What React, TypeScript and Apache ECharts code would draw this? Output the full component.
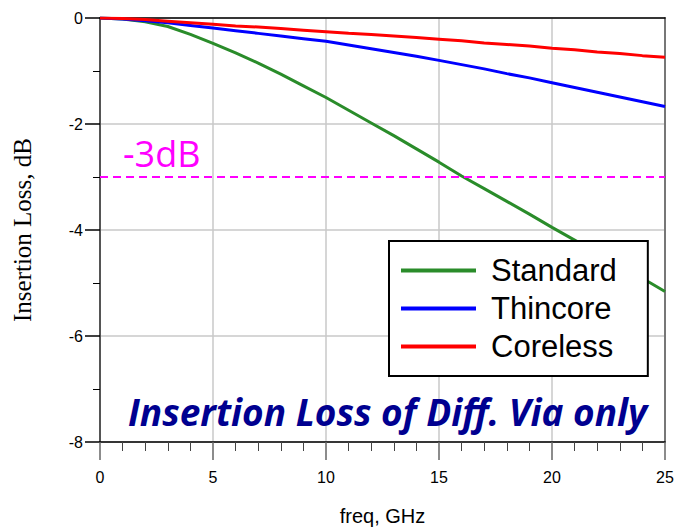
import React, { useEffect, useRef } from "react";
import * as echarts from "echarts";

const freqGHz = [0,1,2,3,4,5,6,7,8,9,10,11,12,13,14,15,16,17,18,19,20,21,22,23,24,25];
const standard = [0,-0.02,-0.07,-0.16,-0.31,-0.48,-0.66,-0.85,-1.06,-1.28,-1.50,-1.74,-1.98,-2.22,-2.47,-2.72,-2.98,-3.22,-3.46,-3.70,-3.95,-4.19,-4.43,-4.67,-4.91,-5.16];
const thincore = [0,-0.02,-0.05,-0.09,-0.14,-0.19,-0.24,-0.29,-0.34,-0.39,-0.44,-0.51,-0.58,-0.65,-0.72,-0.80,-0.88,-0.96,-1.05,-1.13,-1.22,-1.31,-1.40,-1.49,-1.58,-1.67];
const coreless = [0,-0.01,-0.03,-0.06,-0.09,-0.12,-0.15,-0.17,-0.20,-0.23,-0.26,-0.29,-0.31,-0.34,-0.37,-0.40,-0.43,-0.47,-0.50,-0.53,-0.57,-0.60,-0.64,-0.67,-0.71,-0.74];
const seriesNames = ["Standard", "Thincore", "Coreless"];
const seriesColors = ["#2a8c2a", "#0000ff", "#ff0000"];
const thresholdDb = -3;
const thresholdLabel = "-3dB";
const titleText = "Insertion Loss of Diff. Via only";

export default function App() {
  const ref = useRef<HTMLDivElement>(null);
  useEffect(() => {
    if (!ref.current) return;
    const chart = echarts.init(ref.current, undefined, { renderer: "svg" });
    const all = [standard, thincore, coreless];
    const series: any[] = all.map((vals, i) => ({
      name: seriesNames[i],
      type: "line",
      data: freqGHz.map((f, j) => [f, vals[j]]),
      showSymbol: false,
      symbol: "none",
      lineStyle: { color: seriesColors[i], width: 3 },
      itemStyle: { color: seriesColors[i] },
      z: 3,
    }));
    series[0].markLine = {
      silent: true,
      symbol: "none",
      data: [{ yAxis: thresholdDb }],
      lineStyle: { color: "#ff00ff", width: 2, type: [8, 5] },
      label: {
        show: true,
        formatter: thresholdLabel,
        position: "insideStartTop",
        color: "#ff00ff",
        fontFamily: "Open Sans",
        fontSize: 36,
        distance: [23, 6],
      },
    };
    chart.setOption({
      animation: false,
      backgroundColor: "#ffffff",
      grid: { left: 100, top: 18, right: 17, bottom: 88, containLabel: false, outerBoundsMode: "none" },
      legend: {
        orient: "vertical",
        left: 389,
        top: 241,
        data: seriesNames,
        icon: "rect",
        itemWidth: 75,
        itemHeight: 4,
        itemGap: 7,
        backgroundColor: "#ffffff",
        borderColor: "#000000",
        borderWidth: 2,
        borderRadius: 0,
        padding: [14, 31, 14, 12],
        textStyle: { fontFamily: "Liberation Sans, Arial", fontSize: 31, color: "#000", padding: [0, 0, 0, 10] },
        z: 10,
      },
      xAxis: [
        {
          type: "value",
          min: 0,
          max: 25,
          interval: 5,
          name: "freq, GHz",
          nameLocation: "middle",
          nameGap: 64,
          nameTextStyle: { fontFamily: "Liberation Sans, Arial", fontSize: 20, color: "#000" },
          axisLine: { onZero: false, lineStyle: { color: "#000", width: 1.5 } },
          axisTick: { length: 18, lineStyle: { color: "#666", width: 1.5 } },
          minorTick: { show: true, splitNumber: 5, length: 9, lineStyle: { color: "#444", width: 1 } },
          axisLabel: { fontFamily: "Liberation Sans, Arial", fontSize: 16, color: "#000", margin: 27 },
          splitLine: { show: true, lineStyle: { color: "#c8c8c8", width: 1.5 } },
        },
        {
          type: "value",
          position: "top",
          min: 0,
          max: 25,
          axisLine: { show: true, onZero: false, lineStyle: { color: "#000", width: 1.5 } },
          axisTick: { show: false },
          axisLabel: { show: false },
          splitLine: { show: false },
        },
      ],
      yAxis: [
        {
          type: "value",
          min: -8,
          max: 0,
          interval: 2,
          name: "Insertion Loss, dB",
          nameLocation: "middle",
          nameGap: 65,
          nameTextStyle: { fontFamily: "Liberation Serif, Times New Roman", fontSize: 25, color: "#000" },
          axisLine: { show: true, onZero: false, lineStyle: { color: "#555", width: 2 } },
          axisTick: { show: true, length: 15, lineStyle: { color: "#000", width: 1.5 } },
          minorTick: { show: true, splitNumber: 2, length: 7, lineStyle: { color: "#000", width: 1 } },
          axisLabel: { fontFamily: "Liberation Sans, Arial", fontSize: 16, color: "#000", margin: 17 },
          splitLine: { show: true, lineStyle: { color: "#c8c8c8", width: 1.5 } },
        },
        {
          type: "value",
          position: "right",
          min: -8,
          max: 0,
          axisLine: { show: true, onZero: false, lineStyle: { color: "#777", width: 2 } },
          axisTick: { show: false },
          axisLabel: { show: false },
          splitLine: { show: false },
        },
      ],
      graphic: [
        {
          type: "text",
          left: 128,
          top: 393,
          z: 20,
          style: {
            text: titleText,
            fill: "#000090",
            font: "italic bold 37px 'Open Sans'",
          },
        },
      ],
      series,
    });
    return () => chart.dispose();
  }, []);
  return <div ref={ref} style={{ position: "absolute", left: 0, top: 0, width: 682, height: 530 }} />;
}
